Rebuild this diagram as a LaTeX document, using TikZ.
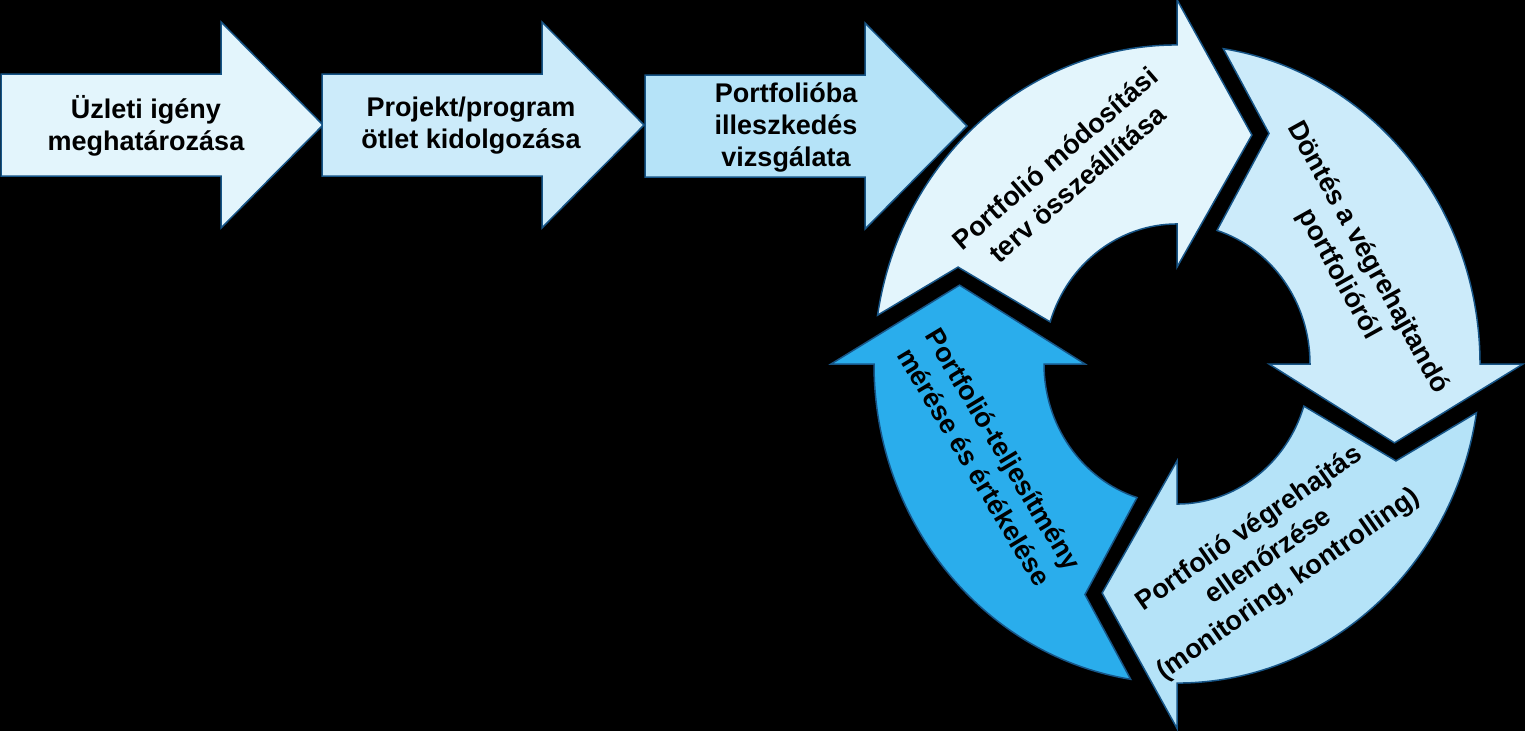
\documentclass[tikz,border=0pt]{standalone}
\usepackage{fontspec}
\setmainfont{Liberation Sans}
\definecolor{paleblue}{RGB}{227,245,252}
\definecolor{lightblue}{RGB}{204,235,250}
\definecolor{midblue}{RGB}{181,227,248}
\definecolor{deepblue}{RGB}{42,173,236}
\definecolor{edgeblue}{RGB}{23,85,135}
\tikzset{
    blockarrow/.pic={
        % straight arrow, tail at the origin
        \filldraw[pic actions] (0,51) -- (220,51) -- (220,103) -- (322,0) -- (220,-103) -- (220,-51) -- (0,-51) -- cycle;
    },
    cyclearrow/.pic={
        % curved arrow, head on top, running clockwise
        \filldraw[pic actions] (171.2:303) arc[start angle=171.2,end angle=90,radius=303] -- (90:346) -- (71:230) -- (90:92) -- (90:133) arc[start angle=90,end angle=162.5,radius=133] -- (157.2:237.5) -- cycle;
    },
    arrowtext/.style={font=\bfseries\fontsize{27}{32}\selectfont,align=center,text=black},
    ringtext/.style={font=\bfseries\fontsize{27}{34}\selectfont,align=center,text=black}
}
\begin{document}
\begin{tikzpicture}[x=1pt,y=1pt,line width=1.5pt]
    \useasboundingbox (0,0) rectangle (1525,-731);
    \fill[black] (0,0) rectangle (1525,-731);
    % straight arrows
    \pic[fill=paleblue,draw=edgeblue] at (1,-125) {blockarrow};
    \pic[fill=lightblue,draw=edgeblue] at (322,-125) {blockarrow};
    \pic[fill=midblue,draw=edgeblue] at (645,-126) {blockarrow};
    \node[arrowtext] (need) at (146,-126) {Üzleti igény\\meghatározása};
    \node[arrowtext] (idea) at (471,-126) {Projekt/program\\ötlet kidolgozása};
    \node[arrowtext] (fit) at (786,-127) {Portfolióba\\illeszkedés\\vizsgálata};
    % the cycle
    \begin{scope}[shift={(1177,-364)},yscale=1.053]
        \foreach \a/\c in {0/paleblue,-90/lightblue,-180/midblue,-270/deepblue}{
            \pic[transform shape,rotate=\a,fill=\c,draw=edgeblue] {cyclearrow};
        }
    \end{scope}
    \node[ringtext,rotate=41] (plan) at (1066,-171) {Portfolió módosítási\\terv összeállítása};
    \node[ringtext,rotate=-61] (decide) at (1353,-266) {Döntés a végrehajtandó\\portfolióról};
    \node[ringtext,rotate=35] (control) at (1269,-557) {Portfolió végrehajtás\\ellenőrzése\\(monitoring, kontrolling)};
    \node[ringtext,rotate=-59] (measure) at (989,-458) {Portfolió-teljesítmény\\mérése és értékelése};
\end{tikzpicture}
\end{document}
